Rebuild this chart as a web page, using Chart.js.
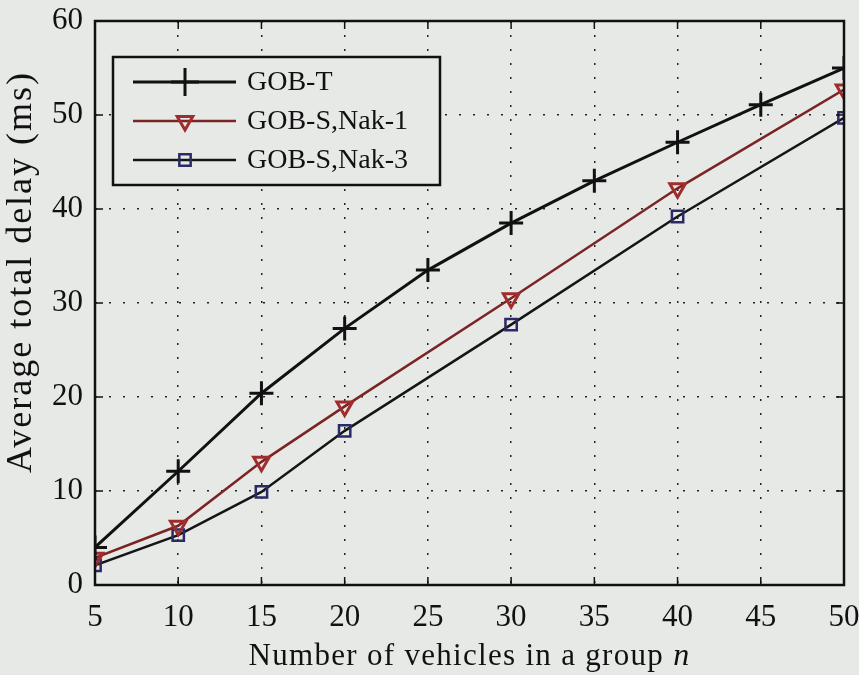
<!DOCTYPE html>
<html>
<head>
<meta charset="utf-8">
<script src="https://cdn.jsdelivr.net/npm/chart.js@4"></script>
<style>
  html, body { margin: 0; padding: 0; background: #e7e9e7; }
  #wrap { width: 859px; height: 675px; }
</style>
</head>
<body>
<div id="wrap"><canvas id="delayChart" width="859" height="675"></canvas></div>
<script>
// values
const groupSizes = [5, 10, 15, 20, 25, 30, 35, 40, 45, 50];
const gobT  = [4.0, 12.1, 20.4, 27.3, 33.5, 38.5, 43.0, 47.1, 51.1, 55.0];
const nak1  = [2.9, 6.3, 13.1, 19.0, null, 30.5, null, 42.2, null, 52.7];
const nak3  = [2.1, 5.3, 9.9, 16.4, null, 27.7, null, 39.2, null, 49.7];
const seriesNames = ['GOB-T', 'GOB-S,Nak-1', 'GOB-S,Nak-3'];
const xTicks = [5, 10, 15, 20, 25, 30, 35, 40, 45, 50];
const yTicks = [0, 10, 20, 30, 40, 50, 60];
const xLabel = 'Number of vehicles in a group ';
const xLabelVar = 'n';
const yLabel = 'Average total delay (ms)';

const serif = "'Liberation Serif', 'DejaVu Serif', serif";

function toPoints(values) {
    return groupSizes.map(function(n, i) {
        return { x: n, y: values[i] };
    });
}

// light grey paper of the scan
const paperBg = {
    id: 'paperBg',
    beforeDraw: function(chart) {
        var ctx = chart.ctx;
        ctx.save();
        ctx.fillStyle = '#e7e9e7';
        ctx.fillRect(0, 0, chart.width, chart.height);
        ctx.restore();
    }
};

// axes box, inner ticks, axis labels, legend box
const matlabFrame = {
    id: 'matlabFrame',
    afterDraw: function(chart) {
        var ctx = chart.ctx;
        var a = chart.chartArea;
        var xs = chart.scales.x, ys = chart.scales.y;
        ctx.save();

        ctx.strokeStyle = '#111';
        ctx.lineWidth = 1.5;
        xTicks.forEach(function(t) {
            var px = xs.getPixelForValue(t);
            ctx.beginPath();
            ctx.moveTo(px, a.bottom); ctx.lineTo(px, a.bottom - 8);
            ctx.moveTo(px, a.top); ctx.lineTo(px, a.top + 8);
            ctx.stroke();
        });
        yTicks.forEach(function(t) {
            var py = ys.getPixelForValue(t);
            ctx.beginPath();
            ctx.moveTo(a.left, py); ctx.lineTo(a.left + 8, py);
            ctx.moveTo(a.right, py); ctx.lineTo(a.right - 8, py);
            ctx.stroke();
        });

        ctx.lineWidth = 2.5;
        ctx.strokeRect(a.left, a.top, a.right - a.left, a.bottom - a.top);

        // x axis label, italic n
        ctx.fillStyle = '#111';
        ctx.textBaseline = 'alphabetic';
        ctx.textAlign = 'left';
        ctx.letterSpacing = '1.3px';
        ctx.font = 'italic 32px ' + serif;
        var wn = ctx.measureText(xLabelVar).width;
        ctx.font = '31px ' + serif;
        var wm = ctx.measureText(xLabel).width;
        var x0 = (a.left + a.right) / 2 - (wm + wn) / 2;
        ctx.fillText(xLabel, x0, 665);
        ctx.font = 'italic 32px ' + serif;
        ctx.fillText(xLabelVar, x0 + wm, 665);

        // y axis label
        ctx.save();
        ctx.translate(22, 272);
        ctx.rotate(-Math.PI / 2);
        ctx.letterSpacing = '2px';
        ctx.font = '36px ' + serif;
        ctx.textAlign = 'center';
        ctx.textBaseline = 'middle';
        ctx.fillText(yLabel, 0, 0);
        ctx.restore();
        ctx.letterSpacing = '0px';

        // legend
        var lx = 113, ly = 57, lw = 327, lh = 128;
        ctx.fillStyle = '#e7e9e7';
        ctx.fillRect(lx, ly, lw, lh);
        ctx.lineWidth = 2.5;
        ctx.strokeStyle = '#111';
        ctx.strokeRect(lx, ly, lw, lh);
        chart.data.datasets.forEach(function(ds, i) {
            var y = ly + 25 + i * 39;
            ctx.strokeStyle = ds.borderColor;
            ctx.lineWidth = ds.borderWidth;
            ctx.beginPath();
            ctx.moveTo(133, y); ctx.lineTo(236, y);
            ctx.stroke();
            ctx.strokeStyle = ds.pointBorderColor;
            ctx.fillStyle = 'rgba(0,0,0,0)';
            ctx.lineWidth = ds.pointBorderWidth;
            Chart.helpers.drawPoint(ctx, {
                pointStyle: ds.pointStyle,
                rotation: ds.pointRotation || 0,
                radius: ds.pointStyle === 'cross' ? ds.pointRadius + 2 : ds.pointRadius,
                borderWidth: ds.pointBorderWidth
            }, 185, y);
            ctx.fillStyle = '#111';
            ctx.font = '28px ' + serif;
            ctx.textAlign = 'left';
            ctx.textBaseline = 'middle';
            ctx.fillText(seriesNames[i], 247, y + 1);
        });
        ctx.restore();
    }
};

const ctx = document.getElementById('delayChart').getContext('2d');

const chart = new Chart(ctx, {
    type: 'line',
    data: {
        datasets: [{
            label: seriesNames[0],
            data: toPoints(gobT),
            borderColor: '#111111',
            borderWidth: 3,
            pointStyle: 'cross',
            pointRadius: 12,
            pointBorderWidth: 3,
            pointBorderColor: '#111111',
            pointBackgroundColor: 'rgba(0,0,0,0)',
            spanGaps: true
        }, {
            label: seriesNames[1],
            data: toPoints(nak1),
            borderColor: '#7a2424',
            borderWidth: 2.5,
            pointStyle: 'triangle',
            pointRotation: 180,
            pointRadius: 9,
            pointBorderWidth: 3,
            pointBorderColor: '#a02c2c',
            pointBackgroundColor: 'rgba(0,0,0,0)',
            spanGaps: true
        }, {
            label: seriesNames[2],
            data: toPoints(nak3),
            borderColor: '#151515',
            borderWidth: 2.5,
            pointStyle: 'rect',
            pointRadius: 8,
            pointBorderWidth: 2.5,
            pointBorderColor: '#2a2a66',
            pointBackgroundColor: 'rgba(0,0,0,0)',
            spanGaps: true
        }]
    },
    options: {
        responsive: false,
        animation: false,
        layout: {
            padding: { top: 21, right: 14, left: 0, bottom: 0 }
        },
        plugins: {
            legend: { display: false },
            tooltip: { enabled: false }
        },
        scales: {
            x: {
                type: 'linear',
                min: 5,
                max: 50,
                afterBuildTicks: function(scale) {
                    scale.ticks = xTicks.map(function(v) { return { value: v }; });
                },
                afterFit: function(scale) {
                    scale.height = 90;
                    scale.paddingLeft = 0;
                    scale.paddingRight = 0;
                },
                grid: {
                    color: '#222',
                    lineWidth: 1.5,
                    drawTicks: false
                },
                border: { display: false, dash: [2, 12] },
                ticks: {
                    color: '#111',
                    padding: 14,
                    maxRotation: 0,
                    font: { family: serif, size: 31 }
                }
            },
            y: {
                min: 0,
                max: 60,
                afterBuildTicks: function(scale) {
                    scale.ticks = yTicks.map(function(v) { return { value: v }; });
                },
                afterFit: function(scale) {
                    scale.width = 95;
                    scale.paddingTop = 0;
                    scale.paddingBottom = 0;
                },
                grid: {
                    color: '#222',
                    lineWidth: 1.5,
                    drawTicks: false
                },
                border: { display: false, dash: [2, 12] },
                ticks: {
                    color: '#111',
                    padding: 12,
                    font: { family: serif, size: 31 }
                }
            }
        }
    },
    plugins: [paperBg, matlabFrame]
});
</script>
</body>
</html>
